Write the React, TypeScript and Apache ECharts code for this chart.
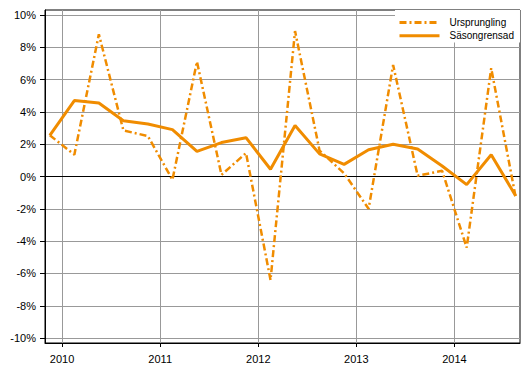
import React, { useEffect, useRef } from "react";
import * as echarts from "echarts";

const periods = [
  "2009Q4",
  "2010Q1", "2010Q2", "2010Q3", "2010Q4",
  "2011Q1", "2011Q2", "2011Q3", "2011Q4",
  "2012Q1", "2012Q2", "2012Q3", "2012Q4",
  "2013Q1", "2013Q2", "2013Q3", "2013Q4",
  "2014Q1", "2014Q2", "2014Q3",
];
const ursprungling = [2.55, 1.35, 8.8, 2.85, 2.5, -0.2, 7.1, 0.1, 1.45, -6.4, 9.0, 1.6, 0.2, -2.0, 6.9, 0.05, 0.35, -4.4, 6.7, -1.3];
const sasongrensad = [2.55, 4.7, 4.55, 3.45, 3.25, 2.9, 1.55, 2.1, 2.4, 0.45, 3.15, 1.4, 0.75, 1.65, 2.0, 1.7, 0.65, -0.5, 1.35, -1.2];
const yearTicks = [2010, 2011, 2012, 2013, 2014];
const yTicks = [-10, -8, -6, -4, -2, 0, 2, 4, 6, 8, 10];
const seriesNames = ["Ursprungling", "Säsongrensad"];

const ORANGE = "#F08C00";
const FONT = "'Liberation Sans', Arial, sans-serif";

function periodToX(p: string): number {
  const year = parseInt(p.slice(0, 4), 10);
  const q = parseInt(p.slice(5), 10);
  return year + (q - 0.5) / 4;
}

export default function App() {
  const ref = useRef<HTMLDivElement>(null);
  useEffect(() => {
    if (!ref.current) return;
    const chart = echarts.init(ref.current, null, { renderer: "svg" });
    const xs = periods.map(periodToX);
    chart.setOption({
      animation: false,
      textStyle: { fontFamily: FONT },
      grid: {
        left: 45,
        top: 10,
        right: 9,
        bottom: 35,
        show: true,
        borderColor: "#000",
        borderWidth: 1,
        backgroundColor: "transparent",
      },
      legend: {
        show: true,
        orient: "vertical",
        left: 395,
        top: 10,
        width: 124,
        padding: [7, 6, 1, 3],
        itemWidth: 40,
        itemHeight: 14,
        itemGap: 2,
        backgroundColor: "#fff",
        itemStyle: { opacity: 0 },
        lineStyle: { width: 3 },
        textStyle: { fontFamily: FONT, fontSize: 10, color: "#000", padding: [0, 0, 0, 5] },
        data: seriesNames,
      },
      xAxis: {
        type: "value",
        min: 2009.8257,
        max: 2014.6686,
        axisLine: { show: true, onZero: false, lineStyle: { color: "#000", width: 1 } },
        axisTick: { show: true, customValues: yearTicks, length: 4, lineStyle: { color: "#000" } },
        axisLabel: {
          show: true,
          customValues: yearTicks,
          margin: 10,
          fontSize: 11,
          color: "#000",
          fontFamily: FONT,
          formatter: (v: number) => String(Math.round(v)),
        },
        splitLine: { show: true, lineStyle: { color: "#999", width: 1 } },
      },
      yAxis: {
        type: "value",
        min: -10.3,
        max: 10.3,
        axisLine: { show: true, lineStyle: { color: "#000", width: 1 } },
        axisTick: { show: true, customValues: yTicks, length: 5, lineStyle: { color: "#000" } },
        axisLabel: {
          show: true,
          customValues: yTicks,
          margin: 9,
          fontSize: 11,
          color: "#000",
          fontFamily: FONT,
          formatter: (v: number) => `${Math.round(v)}%`,
        },
        splitLine: { show: true, lineStyle: { color: "#999", width: 1 } },
      },
      series: [
        {
          name: seriesNames[0],
          type: "line",
          data: xs.map((x, i) => [x, ursprungling[i]]),
          symbol: "none",
          lineStyle: { color: ORANGE, width: 2.5, type: [7, 3, 2, 3] },
          itemStyle: { color: ORANGE },
          z: 3,
          markLine: {
            silent: true,
            symbol: "none",
            label: { show: false },
            lineStyle: { color: "#000", width: 1, type: "solid" },
            data: [{ yAxis: 0 }],
            z: 1,
          },
        },
        {
          name: seriesNames[1],
          type: "line",
          data: xs.map((x, i) => [x, sasongrensad[i]]),
          symbol: "none",
          lineStyle: { color: ORANGE, width: 3, type: "solid" },
          itemStyle: { color: ORANGE },
          z: 4,
        },
      ],
    });
    return () => chart.dispose();
  }, []);
  return (
    <div
      ref={ref}
      style={{ position: "fixed", left: 0, top: 0, width: 529, height: 378, background: "#fff" }}
    />
  );
}
